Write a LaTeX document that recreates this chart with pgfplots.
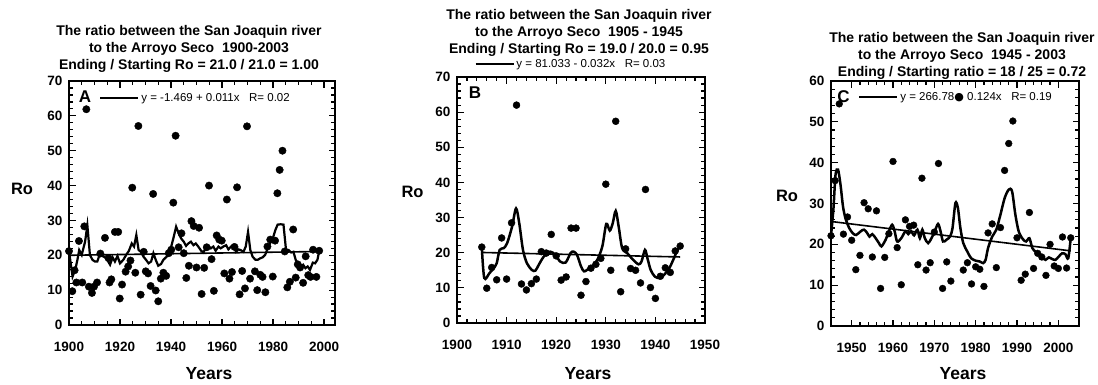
\documentclass[border=0pt]{standalone}
\usepackage{fontspec}
\setmainfont{Liberation Sans}
\newfontfamily\dejavu{DejaVu Sans}
\usepackage{pgfplots}
\pgfplotsset{compat=1.18}
\pgfplotsset{
  myax/.style={
    scale only axis, anchor=south west, clip=false,
    axis line style={line width=1.6pt, black},
    every tick/.style={black, line width=1.2pt},
    major tick length=6.5pt, minor tick length=4pt,
    tick align=inside,
    ticklabel style={font=\fontsize{13.5}{14}\selectfont\bfseries},
    /pgf/number format/assume math mode=true,
    /pgf/number format/1000 sep={},
    yticklabel style={xshift=-3pt},
    xticklabel style={yshift=-13.5pt},
    minor y tick num=4,
    legend image code/.code={\draw[line width=2.8pt,black] (0pt,0pt) -- (38pt,0pt);},
    legend style={draw=none, fill=none, inner sep=0pt, outer sep=0pt, anchor=west,
      font=\fontsize{11.5}{12}\selectfont, nodes={inner sep=1.5pt}},
  },
  dots/.style={only marks, mark=*, mark size=3.7pt, black, forget plot},
  wig/.style={black, line width=2.5pt, no marks, forget plot},
  reg/.style={black, line width=1.6pt, no marks},
}
\begin{document}
\begin{tikzpicture}[x=1pt,y=1pt]
\useasboundingbox (0,0) rectangle (1098,384);
% ---------------- Panel A ----------------
\begin{axis}[myax, at={(69pt,59pt)}, width=266pt, height=244pt,
  xmin=1900, xmax=2004.3, ymin=0, ymax=70,
  xtick={1900,1920,...,2000}, minor x tick num=3, ytick={0,10,...,70},
  legend style={at={(0.113,0.930)}}]
\addplot[dots] coordinates {
(1900.0,21.2) (1901.3,9.7) (1902.2,15.7) (1902.9,12.2) (1903.9,24.1) (1905.2,12.2)
(1906.0,28.3) (1906.8,61.9) (1907.8,11.0) (1909.0,9.2) (1909.8,11.0) (1911.0,12.2)
(1912.3,20.5) (1914.1,25.0) (1915.5,19.2) (1915.9,12.2) (1916.6,13.1) (1918.0,26.7)
(1919.3,26.7) (1919.9,7.6) (1920.8,11.6) (1922.2,15.3) (1923.2,16.8) (1924.1,18.5)
(1924.8,39.4) (1926.0,15.0) (1927.2,57.1) (1928.1,8.7) (1929.3,21.0) (1930.1,15.4)
(1931.0,14.8) (1932.0,11.2) (1933.0,37.6) (1934.0,9.9) (1935.0,6.8) (1936.0,13.3)
(1937.0,15.0) (1938.1,14.1) (1939.1,20.6) (1940.1,21.6) (1940.9,35.1) (1941.8,54.3)
(1943.0,22.3) (1944.1,26.3) (1945.0,20.6) (1946.0,13.5) (1947.0,17.0) (1948.0,29.8)
(1948.9,28.4) (1950.0,16.5) (1951.0,27.9) (1952.0,8.9) (1953.0,16.4) (1954.0,22.3)
(1954.9,40.0) (1955.9,18.9) (1956.8,9.8) (1957.9,25.7) (1958.9,24.5) (1959.9,24.2)
(1960.9,14.8) (1961.9,36.0) (1962.9,13.3) (1963.9,15.2) (1964.9,22.4) (1965.9,39.5)
(1966.9,8.8) (1967.9,15.5) (1969.0,10.5) (1969.8,57.0) (1971.0,13.3) (1972.9,15.4)
(1973.8,10.0) (1975.0,14.4) (1975.9,13.8) (1977.0,9.4) (1977.8,22.5) (1978.9,24.5)
(1979.9,13.9) (1980.8,24.2) (1981.7,37.8) (1982.6,44.5) (1983.7,50.0) (1984.6,21.1)
(1985.6,10.8) (1986.6,12.4) (1987.9,27.4) (1988.9,13.6) (1989.7,17.4) (1990.6,16.5)
(1991.8,12.1) (1992.8,19.7) (1993.8,14.3) (1994.7,13.8) (1995.7,21.6) (1997.0,13.8)
(1998.1,21.3)};
\addplot[wig, line width=2.2pt] coordinates {
(1900,21.2) (1901.4,13.9) (1902.5,16.0) (1903.3,18.7) (1904.0,21.5) (1905.0,20.1)
(1906.3,23.9) (1907.2,28.6) (1908.2,20.1) (1909.2,18.7) (1910.2,18.2) (1911.1,18.2)
(1912.2,20.6) (1913.1,19.8) (1914.1,19.4) (1915.0,18.7) (1916.1,17.3) (1917.1,19.4)
(1918.0,18.2) (1919.0,19.8) (1920.0,17.7) (1921.3,18.7) (1922.4,20.1) (1923.5,21.3)
(1924.6,23.4) (1925.5,22.5) (1926.4,25.8) (1927.3,21.5) (1928.2,21.0) (1929.2,19.6)
(1930.2,18.7) (1931.2,17.7) (1932.2,18.2) (1933.1,20.6) (1934.0,18.7) (1935.0,17.0)
(1936.1,17.5) (1937.0,18.7) (1938.0,19.4) (1939.0,20.1) (1939.9,22.0) (1940.9,24.8)
(1942.0,28.2) (1943.0,26.3) (1944.0,24.8) (1945.0,23.9) (1945.9,22.7) (1946.8,23.4)
(1947.8,23.9) (1948.8,22.9) (1949.7,23.4) (1950.7,22.5) (1951.8,21.3) (1952.7,20.8)
(1953.6,22.0) (1954.6,22.7) (1955.6,22.0) (1956.6,22.5) (1957.5,21.3) (1958.6,22.5)
(1959.5,22.0) (1960.5,22.5) (1961.6,22.9) (1962.5,21.7) (1963.5,22.5) (1964.4,22.9)
(1965.5,21.0) (1966.4,21.7) (1967.3,21.5) (1968.4,21.0) (1969.3,22.5) (1970.2,26.7)
(1971.1,21.5) (1972.0,19.6) (1973.1,18.7) (1974.0,18.7) (1974.9,19.1) (1975.9,19.4)
(1976.9,20.1) (1977.9,22.0) (1978.8,23.4) (1979.9,24.8) (1980.9,27.2) (1981.8,28.8)
(1983.0,28.9) (1984.1,28.8) (1985.1,21.5) (1986.1,21.5) (1987.1,20.8) (1988.0,21.0)
(1988.9,18.7) (1989.8,17.5) (1990.8,16.6) (1991.8,17.3) (1992.7,16.3) (1993.6,16.8)
(1994.5,15.8) (1995.6,17.9) (1996.5,17.7) (1997.4,18.7) (1998.2,21.5)};
\addplot[reg] coordinates {(1900,20.0) (1999,21.1)};
\addlegendentry{y = -1.469 + 0.011x\ \ \ R= 0.02}
\node[font=\fontsize{17}{17}\selectfont\bfseries] at (rel axis cs:0.06,0.934) {A};
\end{axis}
% ---------------- Panel B ----------------
\begin{axis}[myax, at={(457pt,61pt)}, width=248pt, height=246pt,
  xmin=1900, xmax=1950, ymin=0, ymax=70,
  xtick={1900,1910,...,1950}, minor x tick num=4, ytick={0,10,...,70},
  legend style={at={(0.069,1.053)}}]
\addplot[dots, mark size=3.5pt] coordinates {
(1905,21.6) (1906,9.9) (1907,15.8) (1908,12.3) (1909,24.2) (1910,12.5) (1911,28.5)
(1912,62.0) (1913,11.1) (1914,9.4) (1915,11.2) (1916,12.5) (1917,20.3) (1918,19.9)
(1919,25.2) (1920,19.1) (1921,12.2) (1922,13.1) (1923,27.0) (1924,27.0) (1925,7.9)
(1926,11.8) (1927,15.6) (1928,16.7) (1929,18.4) (1930,39.5) (1931,15.0) (1932,57.4)
(1933,8.9) (1934,21.1) (1935,15.5) (1936,15.0) (1937,11.4) (1938,38.0) (1939,10.1)
(1940,7.0) (1941,13.3) (1942,15.7) (1943,14.4) (1944,20.5) (1945,21.9)};
\addplot[wig, smooth, tension=0.5] coordinates {
(1905.0,21.6) (1905.5,12.8) (1906.55,14.2) (1907.4,15.6) (1908.0,17.0) (1908.6,20.8)
(1909.4,21.3) (1910.1,22.7) (1911.1,27.4) (1911.9,32.6) (1912.55,28.4) (1913.3,20.8)
(1914.1,17.0) (1915.1,15.1) (1915.8,14.9) (1916.5,16.6) (1917.5,18.9) (1918.8,20.3)
(1919.8,19.4) (1920.8,17.5) (1921.9,17.2) (1922.9,19.9) (1923.5,20.3) (1924.2,19.4)
(1925.0,16.1) (1925.6,14.7) (1926.2,15.1) (1927.3,16.1) (1928.3,18.0) (1929.3,21.8)
(1930.1,28.2) (1930.8,26.3) (1931.4,28.4) (1932.0,31.9) (1932.6,27.4) (1933.3,21.3)
(1934.3,19.9) (1935.5,18.0) (1936.6,16.7) (1937.2,17.5) (1937.9,20.8) (1938.4,18.4)
(1939.05,15.1) (1939.9,13.2) (1940.9,12.8) (1941.75,13.7) (1942.8,15.6) (1943.6,18.0)
(1944.3,20.3) (1945.0,21.9)};
\addplot[reg] coordinates {(1905,20.07) (1945,18.79)};
\addlegendentry{y = 81.033 - 0.032x\ \ \ R= 0.03}
\node[font=\fontsize{17}{17}\selectfont\bfseries] at (rel axis cs:0.073,0.935) {B};
\end{axis}
% ---------------- Panel C ----------------
\begin{axis}[myax, at={(831pt,58pt)}, width=248pt, height=245pt,
  xmin=1945, xmax=2005, ymin=0, ymax=60,
  xtick={1950,1960,...,2000}, minor x tick num=4, ytick={0,10,...,60},
  legend style={at={(0.109,0.935)}}]
\addplot[dots, mark size=3.4pt] coordinates {
(1945,22.1) (1946,35.6) (1947,54.4) (1948,22.5) (1949,26.7) (1950,21.0) (1951,13.8)
(1952,17.3) (1953,30.2) (1954,28.7) (1955,16.9) (1956,28.2) (1957,9.2) (1958,16.8)
(1959,22.6) (1960,40.3) (1961,19.2) (1962,10.1) (1963,26.0) (1964,24.4) (1965,24.7)
(1966,15.0) (1967,36.2) (1968,13.7) (1969,15.5) (1970,23.0) (1971,39.8) (1972,9.2)
(1973,15.7) (1974,11.0) (1977,13.7) (1978,15.5) (1979,10.3) (1980,14.5) (1981,13.9)
(1982,9.7) (1983,22.8) (1984,25.0) (1985,14.3) (1986,24.1) (1987,38.1) (1988,44.7)
(1989,50.2) (1990,21.6) (1991,11.2) (1992,12.7) (1993,27.8) (1994,14.1) (1995,17.8)
(1996,16.9) (1997,12.4) (1998,20.0) (1999,14.7) (2000,14.1) (2001,21.8) (2002,14.2)
(2003,21.6)};
\addplot[wig, smooth, tension=0.5] coordinates {
(1945.0,22.1) (1945.6,28.9) (1946.1,37.1) (1946.7,38.3) (1947.3,34.6) (1947.9,29.3)
(1948.5,26.4) (1949.4,24.0) (1950.3,22.7) (1951.1,22.3) (1952.2,23.2) (1953.0,23.6)
(1953.8,22.7) (1954.3,21.9) (1955.0,22.5) (1955.8,21.5) (1956.6,20.3) (1957.2,19.5)
(1958.2,21.1) (1959.0,23.2) (1959.8,24.8) (1960.4,23.2) (1961.0,20.7) (1962.0,21.5)
(1963.0,23.2) (1963.7,22.5) (1964.4,23.2) (1965.1,22.2) (1965.9,23.6) (1966.5,21.5)
(1967.1,23.6) (1967.7,21.5) (1968.5,20.3) (1969.3,21.5) (1970.1,23.2) (1970.9,25.0)
(1971.5,23.2) (1972.1,20.7) (1972.9,21.1) (1973.8,21.9) (1974.4,24.0) (1975.1,30.1)
(1975.7,28.9) (1976.3,24.0) (1977.0,20.3) (1978.0,18.2) (1978.9,16.6) (1980.0,16.0)
(1981.0,15.8) (1981.8,15.4) (1982.4,16.2) (1983.0,19.1) (1984.0,21.9) (1985.0,23.6)
(1986.0,27.3) (1987.0,31.3) (1988.0,33.4) (1988.8,33.0) (1989.6,27.3) (1990.4,23.2)
(1991.4,21.3) (1992.2,20.7) (1993.0,21.5) (1993.7,19.1) (1994.5,18.2) (1995.3,17.8)
(1996.1,16.8) (1996.9,16.2) (1997.7,16.8) (1998.5,16.4) (1999.3,16.2) (2000.1,17.0)
(2000.9,17.8) (2001.7,17.6) (2002.4,16.6) (2003.0,21.6)};
\addplot[reg] coordinates {(1945,25.6) (2003,18.4)};
\addlegendentry{y = 266.78{\dejavu\fontsize{11}{11}\selectfont ●} 0.124x\ \ \ R= 0.19}
\node[font=\fontsize{17}{17}\selectfont\bfseries] at (rel axis cs:0.05,0.935) {C};
\end{axis}
% ---------------- titles and labels ----------------
\begin{scope}[every node/.style={font=\fontsize{14}{17}\selectfont\bfseries, align=center}]
\node at (189,335) {The ratio between the San Joaquin river\\to the Arroyo Seco\ \ 1900-2003\\Ending / Starting Ro = 21.0 / 21.0 = 1.00};
\node at (579,350.7) {The ratio between the San Joaquin river\\to the Arroyo Seco\ \ 1905 - 1945\\Ending / Starting Ro = 19.0 / 20.0 = 0.95};
\node at (962,328) {The ratio between the San Joaquin river\\to the Arroyo Seco\ \ 1945 - 2003\\Ending / Starting ratio = 18 / 25 = 0.72};
\end{scope}
\begin{scope}[every node/.style={font=\fontsize{16.5}{17}\selectfont\bfseries}]
\node at (22,195) {Ro};
\node at (412.5,192.5) {Ro};
\node at (787,188) {Ro};
\end{scope}
\begin{scope}[every node/.style={font=\fontsize{17.5}{18}\selectfont\bfseries, anchor=base}]
\node at (209,5) {Years};
\node at (588,5) {Years};
\node at (963,5) {Years};
\end{scope}
\end{tikzpicture}
\end{document}
